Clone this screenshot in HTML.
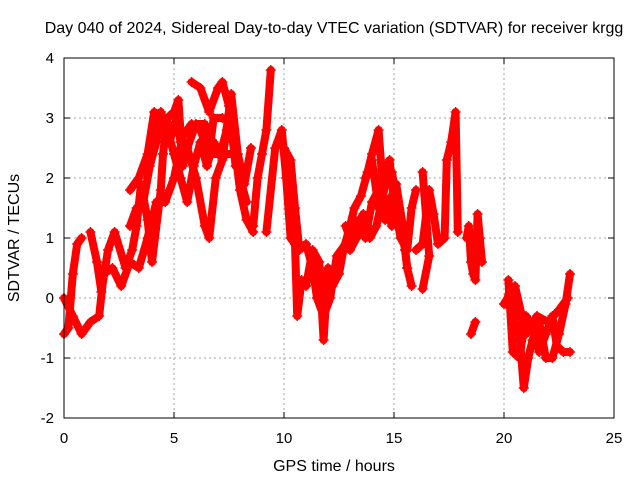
<!DOCTYPE html>
<html><head><meta charset="utf-8"><style>
body{margin:0;background:#fff}
svg{display:block;font-family:"Liberation Sans",sans-serif}
</style></head><body>
<svg id="c" width="640" height="480">
<text x="334" y="33" font-size="16" text-anchor="middle">Day 040 of 2024, Sidereal Day-to-day VTEC variation (SDTVAR) for receiver krgg</text>
<text x="334" y="471" font-size="16" text-anchor="middle">GPS time / hours</text>
<text transform="translate(19,238) rotate(-90)" font-size="16" text-anchor="middle">SDTVAR / TECUs</text>
<g id="grid"></g>
<g id="ticks"></g>
<g id="series"></g>
<rect x="64" y="58" width="550" height="360" fill="none" stroke="#000" stroke-width="1"/>
</svg>
<script>
const xTicks=[0,5,10,15,20,25];
const yTicks=[-2,-1,0,1,2,3,4];
const arc1=[[0,-0.6],[0.2,-0.5],[0.4,0.4],[0.6,0.9],[0.8,1.0]];
const arc2=[[0,0],[0.4,-0.3],[0.8,-0.6],[1.2,-0.4],[1.6,-0.3],[1.8,0.4],[2.2,0.5],[2.6,0.2],[3.0,0.6],[3.4,0.5],[3.8,1.0],[4.2,1.6],[4.6,1.6],[5.0,2.0],[5.4,2.7],[5.8,2.9],[6.2,2.8],[6.6,2.4],[7.0,2.4],[7.4,2.4],[7.8,2.4],[8.0,1.8],[8.3,1.3],[8.6,1.1]];
const arc3=[[1.2,1.1],[1.5,0.6],[1.7,0.1],[2.0,0.8],[2.3,1.1],[2.8,0.5],[3.1,0.8],[3.3,1.2],[3.5,1.9],[3.8,1.3],[4.0,0.6],[4.4,1.8],[4.5,2.4],[4.7,3.0],[5.0,3.1],[5.2,3.3],[5.4,2.2],[5.6,2.5],[6.0,2.0],[6.4,1.2],[6.6,1.0],[6.9,2.0],[7.2,2.3],[7.6,3.4],[7.9,2.4],[8.2,1.9],[8.5,2.5]];
const arc4=[[3.0,1.8],[3.4,2.0],[3.8,2.4],[4.1,3.1],[4.5,3.0],[4.8,2.6],[5.1,3.0],[5.3,2.6],[5.6,2.5],[6.0,2.9],[6.4,2.9],[6.6,2.4],[6.8,3.0],[7.2,3.0]];
const arc5=[[5.8,3.6],[6.2,3.5],[6.6,3.1],[7.0,3.5],[7.2,3.6],[7.5,3.2],[7.8,2.2]];
const arc6=[[8.6,1.2],[8.8,2.0],[9.0,2.4],[9.2,2.8],[9.4,3.8]];
const arc7=[[9.2,1.1],[9.6,2.5],[9.9,2.8],[10.1,2.0],[10.3,1.0],[10.5,0.9],[10.6,-0.3],[10.8,0.3],[11.0,0.2],[11.3,0.8],[11.6,0.6],[11.8,-0.7],[12.0,0.5],[12.2,0.2],[12.5,0.4],[12.7,0.8],[13.0,1.2],[13.2,1.5],[13.5,1.7],[13.8,2.1],[14.0,2.4],[14.3,2.8],[14.6,1.3],[14.8,1.6],[15.1,1.9],[15.4,1.2],[15.6,0.5],[15.8,0.2]];
const arc8=[[10.0,2.5],[10.3,2.3],[10.5,1.5],[10.7,0.8],[11.0,0.9],[11.3,0.5],[11.5,0.0],[11.8,-0.3],[12.1,0.0],[12.4,0.7],[12.8,0.9],[13.0,0.8],[13.3,1.0],[13.6,1.4],[13.9,1.0],[14.2,1.2],[14.5,1.7],[14.8,2.3],[15.0,1.6],[15.3,1.0],[15.6,0.8],[15.8,1.5],[16.0,1.8]];
const arc9=[[13.7,2.0],[14.0,2.3],[14.3,1.5],[14.6,2.2],[14.9,2.1],[15.2,1.5],[15.5,0.8],[15.6,0.5]];
const arc10=[[16.0,0.8],[16.3,0.9],[16.6,1.8],[16.8,1.4],[17.0,0.9],[17.3,1.0],[17.4,2.3],[17.6,2.6],[17.8,3.1],[17.9,1.1]];
const arc11=[[16.3,2.1],[16.6,0.7],[16.3,0.15]];
const arc12=[[18.3,1.0],[18.4,1.2],[18.5,0.6],[18.6,0.4],[18.7,0.3],[18.8,1.4],[18.9,1.0],[19.0,0.6]];
const arc13=[[18.5,-0.6],[18.7,-0.4]];
const arc14=[[20.1,-0.1],[20.3,0.2],[20.5,-0.4],[20.7,-0.6],[20.9,-1.5],[21.1,-1.0],[21.3,-0.7],[21.6,-0.4],[21.9,-1.0],[22.2,-1.0],[22.5,-0.6],[22.8,-0.1],[23.0,0.4]];
const arc15=[[20.2,0.3],[20.4,-0.9],[20.7,-1.0],[21.0,-0.3],[21.3,-0.5],[21.6,-0.9],[21.9,-0.6],[22.2,-0.3],[22.4,-0.8],[22.7,-0.9],[23.0,-0.9]];
const arc16=[[20.0,-0.1],[20.5,0.2],[21.0,-0.6],[21.5,-0.3],[22.0,-0.4],[22.5,-0.2],[22.9,0.0]];
const arc17=[[3.0,1.2],[3.3,1.5],[3.6,1.6],[3.9,2.2],[4.2,2.6],[4.4,3.1],[4.7,2.8],[5.0,2.4],[5.3,2.0],[5.6,1.6],[5.9,2.2],[6.2,2.6],[6.5,2.2],[6.8,2.6],[7.1,2.4],[7.4,2.8],[7.7,2.6],[8.0,2.0],[8.3,1.6]];
const arc18=[[12.8,1.2],[13.1,0.9],[13.4,1.3],[13.7,1.0],[14.0,1.6],[14.3,1.8],[14.6,1.6],[14.9,1.2]];
const arcs=[arc1,arc2,arc3,arc4,arc5,arc6,arc7,arc8,arc9,arc10,arc11,arc12,arc13,arc14,arc15,arc16,arc17,arc18];
const X=t=>64+t*22, Y=v=>298-v*60;
const NS="http://www.w3.org/2000/svg";
function mk(tag,attrs,parent){const e=document.createElementNS(NS,tag);for(const k in attrs)e.setAttribute(k,attrs[k]);parent.appendChild(e);return e;}
const grid=document.getElementById('grid'),ticks=document.getElementById('ticks'),ser=document.getElementById('series');
xTicks.forEach(t=>{
  if(t>0&&t<25){const g=mk('line',{x1:X(t),x2:X(t),y1:58,y2:418,stroke:'#a0a0a0','stroke-dasharray':'2,3'},grid);
  
  }
  mk('line',{x1:X(t),x2:X(t),y1:418,y2:412,stroke:'#000'},ticks);
  mk('line',{x1:X(t),x2:X(t),y1:58,y2:64,stroke:'#000'},ticks);
  const l=mk('text',{x:X(t),y:443,'font-size':15,'text-anchor':'middle'},ticks);l.textContent=t;
  
  
});
yTicks.forEach(v=>{
  if(v>-2&&v<4){const g=mk('line',{x1:64,x2:614,y1:Y(v),y2:Y(v),stroke:'#a0a0a0','stroke-dasharray':'2,3'},grid);
  
  }
  mk('line',{x1:64,x2:70,y1:Y(v),y2:Y(v),stroke:'#000'},ticks);
  mk('line',{x1:614,x2:608,y1:Y(v),y2:Y(v),stroke:'#000'},ticks);
  const l=mk('text',{x:54,y:Y(v)+5,'font-size':15,'text-anchor':'end'},ticks);l.textContent=v;
  
  
});
arcs.forEach(a=>{
  const p=mk('polyline',{points:a.map(d=>X(d[0])+','+Y(d[1])).join(' '),fill:'none',stroke:'#ff0000','stroke-width':8,'stroke-linejoin':'round','stroke-linecap':'round'},ser);
  
  
  a.forEach(d=>{
    const m=mk('path',{d:`M${X(d[0])-5},${Y(d[1])}h10M${X(d[0])},${Y(d[1])-5}v10`,stroke:'#ff0000','stroke-width':1.5},ser);
    
    
  });
});
</script>
</body></html>
